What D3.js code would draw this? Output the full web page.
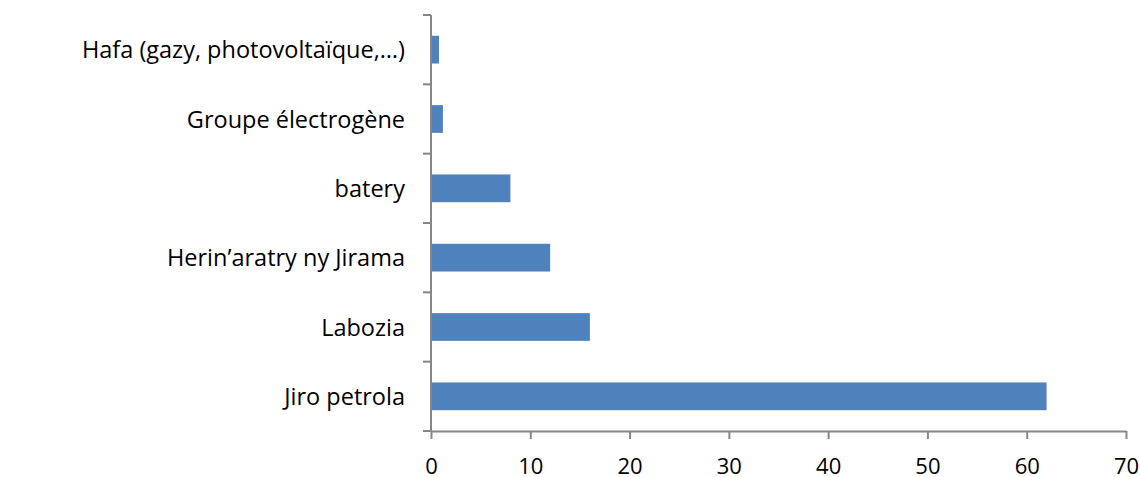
<!DOCTYPE html>
<html>
<head>
<meta charset="utf-8">
<script src="https://cdn.jsdelivr.net/npm/d3@7"></script>
<style>
  body { margin: 0; background: #fff; }
  svg text { font-family: "Open Sans", Lato, sans-serif; fill: #000; }
</style>
</head>
<body>
<div class="chart"></div>
<script>
// data, bottom to top as read in the picture
var CATEGORIES = ["Jiro petrola", "Labozia", "Herin\u2019aratry ny Jirama", "batery", "Groupe \u00e9lectrog\u00e8ne", "Hafa (gazy, photovolta\u00efque,\u2026)"];
var VALUES = [62, 16, 12, 8, 1.2, 0.8];
var X_TICKS = [0, 10, 20, 30, 40, 50, 60, 70];

var W = 1140, H = 477;
var margin = {left: 431, right: 14, top: 15, bottom: 46};
var width = W - margin.left - margin.right,
    height = H - margin.top - margin.bottom;

var svg = d3.select(".chart").append("svg")
    .attr("width", W)
    .attr("height", H)
    .append("g")
    .attr("transform", "translate(" + margin.left + "," + margin.top + ")");

var x = d3.scaleLinear()
    .domain([0, 70])
    .range([0, width]);

// top category first so the last item sits at the bottom
var y = d3.scaleBand()
    .domain(CATEGORIES.slice().reverse())
    .range([0, height])
    .paddingInner(0.6)
    .paddingOuter(0.3);

var AXIS_COLOR = "#868686";

// bars
svg.selectAll("rect.bar")
    .data(CATEGORIES)
    .enter().append("rect")
    .attr("class", "bar")
    .attr("x", 0)
    .attr("y", function(d) { return y(d); })
    .attr("width", function(d, i) { return x(VALUES[i]); })
    .attr("height", y.bandwidth())
    .attr("fill", "#4F81BD");

// x axis
var xAxis = svg.append("g")
    .attr("transform", "translate(0," + height + ")")
    .call(d3.axisBottom(x).tickValues(X_TICKS).tickSize(8).tickSizeOuter(0).tickPadding(19));
xAxis.select(".domain").attr("stroke", AXIS_COLOR).attr("stroke-width", 2);
xAxis.selectAll(".tick line").attr("stroke", AXIS_COLOR).attr("stroke-width", 2);
xAxis.selectAll(".tick text").attr("font-size", 22).attr("font-family", "'Open Sans', sans-serif");

// y axis: ticks sit between categories, so draw them by hand from band edges
var yAxis = svg.append("g");
yAxis.append("line")
    .attr("x1", 0).attr("x2", 0)
    .attr("y1", 0).attr("y2", height)
    .attr("stroke", AXIS_COLOR).attr("stroke-width", 2);

var step = y.step();
var edges = d3.range(CATEGORIES.length + 1).map(function(i) { return i * step; });
yAxis.selectAll("line.tk")
    .data(edges)
    .enter().append("line")
    .attr("class", "tk")
    .attr("x1", -8).attr("x2", 0)
    .attr("y1", function(d) { return d; })
    .attr("y2", function(d) { return d; })
    .attr("stroke", AXIS_COLOR).attr("stroke-width", 2);

yAxis.selectAll("text")
    .data(CATEGORIES)
    .enter().append("text")
    .attr("x", -26)
    .attr("y", function(d) { return y(d) + y.bandwidth() / 2; })
    .attr("dy", "0.37em")
    .attr("text-anchor", "end")
    .attr("font-size", 23.5)
    .text(function(d) { return d; });
</script>
</body>
</html>
